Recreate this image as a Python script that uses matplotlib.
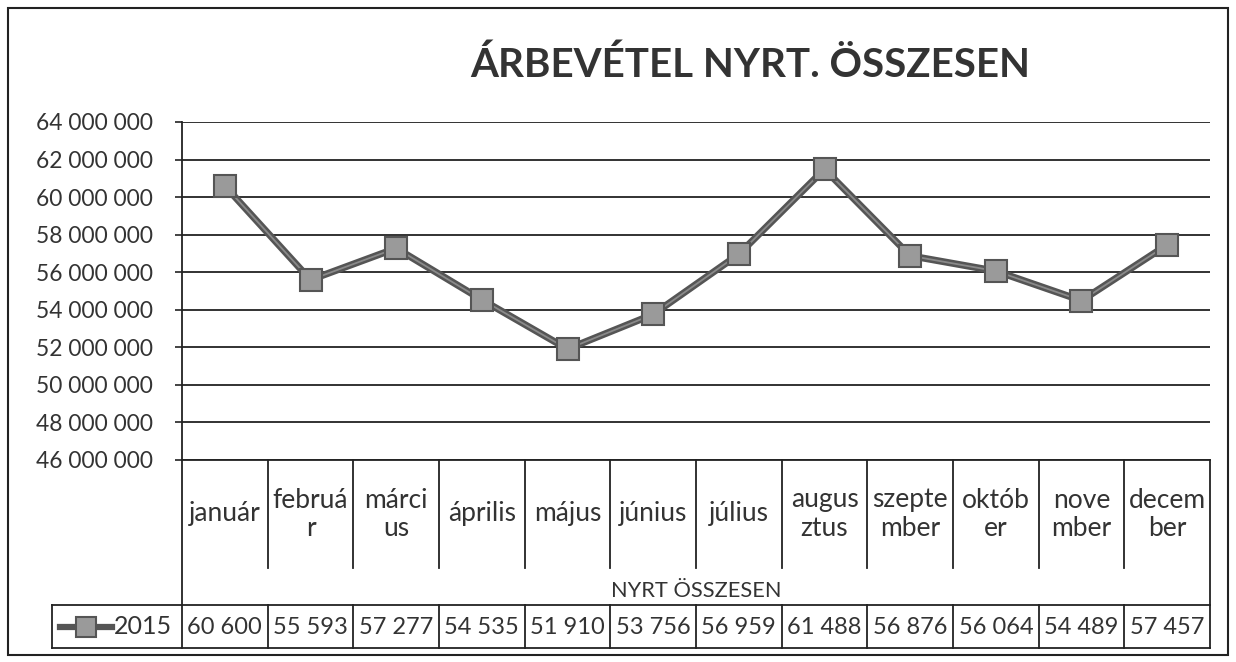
import matplotlib
matplotlib.use("Agg")
import matplotlib.pyplot as plt
import matplotlib.transforms as mtransforms
from matplotlib.lines import Line2D
from matplotlib.patches import Rectangle

months = ["január", "február", "március", "április", "május", "június",
          "július", "augusztus", "szeptember", "október", "november", "december"]
month_labels = ["január", "februá\nr", "márci\nus", "április", "május", "június",
                "július", "augus\nztus", "szepte\nmber", "októb\ner", "nove\nmber", "decem\nber"]
values_thousand = [60600, 55593, 57277, 54535, 51910, 53756,
                   56959, 61488, 56876, 56064, 54489, 57457]
series_name = "2015"
title = "ÁRBEVÉTEL NYRT. ÖSSZESEN"
axis_title = "NYRT ÖSSZESEN"
y_ticks = list(range(46000000, 64000001, 2000000))

plt.rcParams['font.family'] = ['Lato', 'DejaVu Sans']
TXT = "#333333"
LINE = "#222222"

W, H = 1236, 662
fig = plt.figure(figsize=(W / 100, H / 100), dpi=100)

# plot area in pixels
L, R, T, B = 182, 1210, 122, 460
ax = fig.add_axes([L / W, (H - B) / H, (R - L) / W, (B - T) / H])

x = list(range(len(months)))
yvals = [v * 1000 for v in values_thousand]
ax.plot(x, yvals, color="#555555", lw=5, solid_joinstyle="round", zorder=3)
ax.plot(x, yvals, color="#8a8a8a", lw=1.3, zorder=3)
ax.plot(x, yvals, ls="none", marker="s", ms=15.5, mfc="#9a9a9a", mec="#555555",
        mew=1.5, zorder=4)

ax.set_xlim(-0.5, len(months) - 0.5)
ax.set_ylim(y_ticks[0], y_ticks[-1])
ax.set_yticks(y_ticks)
ax.set_yticklabels([f"{t:,}".replace(",", " ") for t in y_ticks])
ax.tick_params(axis="y", labelsize=16.4, colors=TXT, length=5, width=1.2, pad=16,
               color=LINE)
ax.set_xticks([])
ax.grid(axis="y", color=LINE, lw=1.3)
for s in ["top", "right", "bottom"]:
    ax.spines[s].set_visible(False)
ax.spines["left"].set_color(LINE)
ax.spines["left"].set_linewidth(1.3)

fig.suptitle(title, x=(750) / W, y=1 - 65 / H, va="center", fontsize=29,
             fontweight="bold", color=TXT)

# data table, x in data units, y in axes fraction
tr = mtransforms.blended_transform_factory(ax.transData, ax.transAxes)

def yf(py):
    return (B - py) / (B - T)

def hline(x0, x1, py):
    ax.add_line(Line2D([x0, x1], [yf(py)] * 2, transform=tr, color=LINE,
                       lw=1.3, clip_on=False))

def vline(xx, py0, py1):
    ax.add_line(Line2D([xx, xx], [yf(py0), yf(py1)], transform=tr, color=LINE,
                       lw=1.3, clip_on=False))

n = len(months)
hline(-0.5, n - 0.5, B)
for i in range(1, n):
    vline(i - 0.5, B, 568)
vline(-0.5, B, 648)
vline(n - 0.5, B, 648)

for i, lab in enumerate(month_labels):
    ax.text(i, yf(514), lab, transform=tr, ha="center", va="center",
            fontsize=19, color=TXT, linespacing=1.15, clip_on=False)

ax.text((n - 1) / 2, yf(591), axis_title, transform=tr, ha="center",
        va="center", fontsize=15.7, color=TXT, clip_on=False)

# values row
legend_left = (52 - L) / ((R - L) / n) - 0.5
hline(legend_left, n - 0.5, 605)
hline(legend_left, n - 0.5, 648)
vline(legend_left, 605, 648)
for i in range(1, n):
    vline(i - 0.5, 605, 648)
for i, v in enumerate(values_thousand):
    ax.text(i, yf(627), f"{v:,}".replace(",", " "), transform=tr, ha="center",
            va="center", fontsize=17, color=TXT, clip_on=False)

# legend key
px_per_unit = (R - L) / n
def xu(px):
    return (px - L) / px_per_unit - 0.5
ax.add_line(Line2D([xu(60), xu(112)], [yf(627)] * 2, transform=tr,
                   color="#555555", lw=4.5, clip_on=False))
ax.add_line(Line2D([xu(86)], [yf(627)], transform=tr, ls="none", marker="s",
                   ms=14, mfc="#9a9a9a", mec="#555555", mew=1.5, clip_on=False))
ax.text(xu(114), yf(627), series_name, transform=tr, ha="left", va="center",
        fontsize=18, color=TXT, clip_on=False)

# outer border
fig.patches.append(Rectangle((8 / W, 1 - 655 / H), (1228 - 8) / W,
                             (655 - 8) / H, transform=fig.transFigure,
                             fill=False, ec=LINE, lw=1.5))

fig.savefig("out.png", dpi=100, facecolor="white")
